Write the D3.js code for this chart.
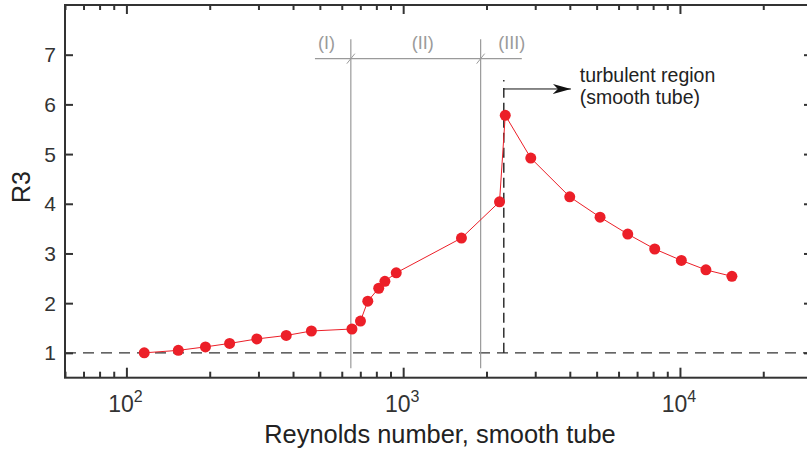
<!DOCTYPE html>
<html>
<head>
<meta charset="utf-8">
<script src="https://cdn.jsdelivr.net/npm/d3@7"></script>
<style>
  body { margin: 0; background: #fff; }
  svg { display: block; font-family: 'Liberation Sans', Arial, sans-serif; }
</style>
</head>
<body>
<div id="chart"></div>
<script>
'use strict'

// measured points (Reynolds number, R3)
const reynolds = [116, 154, 193, 236, 296, 378, 466, 653, 701, 745, 816, 859, 944,
  1624, 2229, 2338, 2891, 3998, 5145, 6477, 8107, 10118, 12413, 15408]
const r3 = [1.00, 1.05, 1.12, 1.19, 1.28, 1.35, 1.44, 1.48, 1.64, 2.04, 2.30, 2.44, 2.61,
  3.31, 4.04, 5.78, 4.92, 4.14, 3.73, 3.39, 3.09, 2.86, 2.67, 2.54]

const yTicks = [1, 2, 3, 4, 5, 6, 7]
const xMajor = [100, 1000, 10000]
const xMajorLabels = ['2', '3', '4']

// regime boundaries and labels
const regimeBounds = [647, 1905]
const regimeLabels = ['(I)', '(II)', '(III)']
const regimeLabelRe = [528, 1178, 2466]
const regimeSpan = [480, 2683]
const turbulentOnset = 2310
const turbulentText = ['turbulent region', '(smooth tube)']

const width = 807,
  height = 450
const margin = { left: 65, top: 5, right: 812, bottom: 377.7 }

const svg = d3.select('#chart').append('svg')
  .attr('width', width)
  .attr('height', height)

const x = d3.scaleLog().domain([60, 30000]).range([margin.left, margin.right])
const y = d3.scaleLinear().domain([0.5, 8]).range([margin.bottom, margin.top])

const axisColor = '#333'
const gray = '#9a9a9a'
const red = '#ec1f28'

// minor ticks on log axis
const xMinor = []
for (let e = 1; e <= 4; e++) {
  for (let m = 2; m <= 9; m++) {
    const v = m * Math.pow(10, e)
    if (v >= 60 && v <= 30000) xMinor.push(v)
  }
}

const styleAxis = (g) => {
  g.select('.domain').remove()
  g.selectAll('.tick line').attr('stroke', axisColor).attr('stroke-width', 2)
}

svg.append('g').attr('transform', `translate(0,${margin.bottom})`)
  .call(d3.axisBottom(x).tickValues(xMinor).tickSize(-6).tickFormat(''))
  .call(styleAxis)
svg.append('g').attr('transform', `translate(0,${margin.bottom})`)
  .call(d3.axisBottom(x).tickValues(xMajor).tickSize(-10).tickFormat(''))
  .call(styleAxis)
svg.append('g').attr('transform', `translate(0,${margin.top})`)
  .call(d3.axisTop(x).tickValues(xMinor).tickSize(-5).tickFormat(''))
  .call(styleAxis)
svg.append('g').attr('transform', `translate(0,${margin.top})`)
  .call(d3.axisTop(x).tickValues(xMajor).tickSize(-9).tickFormat(''))
  .call(styleAxis)
svg.append('g').attr('transform', `translate(${margin.left},0)`)
  .call(d3.axisLeft(y).tickValues(yTicks).tickSize(-8).tickFormat(''))
  .call(styleAxis)
svg.append('g').attr('transform', `translate(${margin.right},0)`)
  .call(d3.axisRight(y).tickValues(yTicks).tickSize(-8).tickFormat(''))
  .call(styleAxis)

// frame
svg.append('rect')
  .attr('x', margin.left).attr('y', margin.top)
  .attr('width', margin.right - margin.left)
  .attr('height', margin.bottom - margin.top)
  .attr('fill', 'none').attr('stroke', axisColor).attr('stroke-width', 2)

// y tick labels
svg.append('g').selectAll('text')
  .data(yTicks)
  .enter().append('text')
  .attr('x', 56)
  .attr('y', d => y(d))
  .attr('dy', '0.36em')
  .attr('text-anchor', 'end')
  .attr('font-size', 21)
  .attr('fill', axisColor)
  .text(d => d)

// x tick labels 10^n
const xl = svg.append('g').selectAll('text')
  .data(xMajor)
  .enter().append('text')
  .attr('x', d => x(d) - 1)
  .attr('y', 412)
  .attr('text-anchor', 'middle')
  .attr('font-size', 23)
  .attr('fill', axisColor)
xl.append('tspan').text('10')
xl.append('tspan')
  .attr('dy', -10)
  .attr('font-size', 16)
  .text((d, i) => xMajorLabels[i])

// axis titles
svg.append('text')
  .attr('x', 440).attr('y', 443)
  .attr('text-anchor', 'middle')
  .attr('font-size', 25.4)
  .attr('fill', '#222')
  .text('Reynolds number, smooth tube')

svg.append('text')
  .attr('transform', 'translate(30,187) rotate(-90)')
  .attr('text-anchor', 'middle')
  .attr('font-size', 25)
  .attr('fill', '#222')
  .text('R3')

// reference line R3 = 1
svg.append('line')
  .attr('x1', margin.left).attr('x2', margin.right)
  .attr('y1', y(1)).attr('y2', y(1))
  .attr('stroke', axisColor).attr('stroke-width', 1.3)
  .attr('stroke-dasharray', '11,7')

// regime boundaries
svg.append('g').selectAll('line')
  .data(regimeBounds)
  .enter().append('line')
  .attr('x1', d => x(d)).attr('x2', d => x(d))
  .attr('y1', y(7.31)).attr('y2', y(0.69))
  .attr('stroke', gray).attr('stroke-width', 1.2)

svg.append('line')
  .attr('x1', x(regimeSpan[0])).attr('x2', x(regimeSpan[1]))
  .attr('y1', y(6.92)).attr('y2', y(6.92))
  .attr('stroke', gray).attr('stroke-width', 1.2)

svg.append('g').selectAll('line')
  .data(regimeBounds)
  .enter().append('line')
  .attr('x1', d => x(d) - 4).attr('x2', d => x(d) + 4)
  .attr('y1', y(6.92) + 5).attr('y2', y(6.92) - 5)
  .attr('stroke', gray).attr('stroke-width', 1)

svg.append('g').selectAll('text')
  .data(regimeLabels)
  .enter().append('text')
  .attr('x', (d, i) => x(regimeLabelRe[i]))
  .attr('y', y(6.92) - 10)
  .attr('text-anchor', 'middle')
  .attr('font-size', 18)
  .attr('fill', gray)
  .text(d => d)

// turbulent onset: dashed from R3=1 upward, small dot on top
svg.append('line')
  .attr('x1', x(turbulentOnset)).attr('x2', x(turbulentOnset))
  .attr('y1', y(1)).attr('y2', y(6.33))
  .attr('stroke', '#111').attr('stroke-width', 1.3)
  .attr('stroke-dasharray', '10,5')
svg.append('line')
  .attr('x1', x(turbulentOnset)).attr('x2', x(turbulentOnset))
  .attr('y1', y(6.49)).attr('y2', y(6.49) + 1.5)
  .attr('stroke', '#111').attr('stroke-width', 1.3)

svg.append('defs').append('marker')
  .attr('id', 'arrow')
  .attr('viewBox', '0 0 18 10')
  .attr('refX', 18).attr('refY', 5)
  .attr('markerWidth', 18).attr('markerHeight', 10)
  .attr('markerUnits', 'userSpaceOnUse')
  .attr('orient', 'auto')
  .append('path')
  .attr('d', 'M0,0 L18,5 L0,10 L5,5 Z')
  .attr('fill', '#111')

svg.append('line')
  .attr('x1', x(turbulentOnset)).attr('x2', x(4036))
  .attr('y1', y(6.31)).attr('y2', y(6.31))
  .attr('stroke', '#111').attr('stroke-width', 1)
  .attr('marker-end', 'url(#arrow)')

svg.append('g').selectAll('text')
  .data(turbulentText)
  .enter().append('text')
  .attr('x', x(4345))
  .attr('y', (d, i) => y(6.31) - 7 + i * 22)
  .attr('font-size', 19.5)
  .attr('fill', '#222')
  .text(d => d)

// data series
const points = reynolds.map((re, i) => ({ re: re, r: r3[i] }))

svg.append('path')
  .datum(points)
  .attr('fill', 'none')
  .attr('stroke', red)
  .attr('stroke-width', 1)
  .attr('d', d3.line().x(d => x(d.re)).y(d => y(d.r)))

svg.append('g').selectAll('circle')
  .data(points)
  .enter().append('circle')
  .attr('cx', d => x(d.re))
  .attr('cy', d => y(d.r))
  .attr('r', 5.5)
  .attr('fill', red)
</script>
</body>
</html>
